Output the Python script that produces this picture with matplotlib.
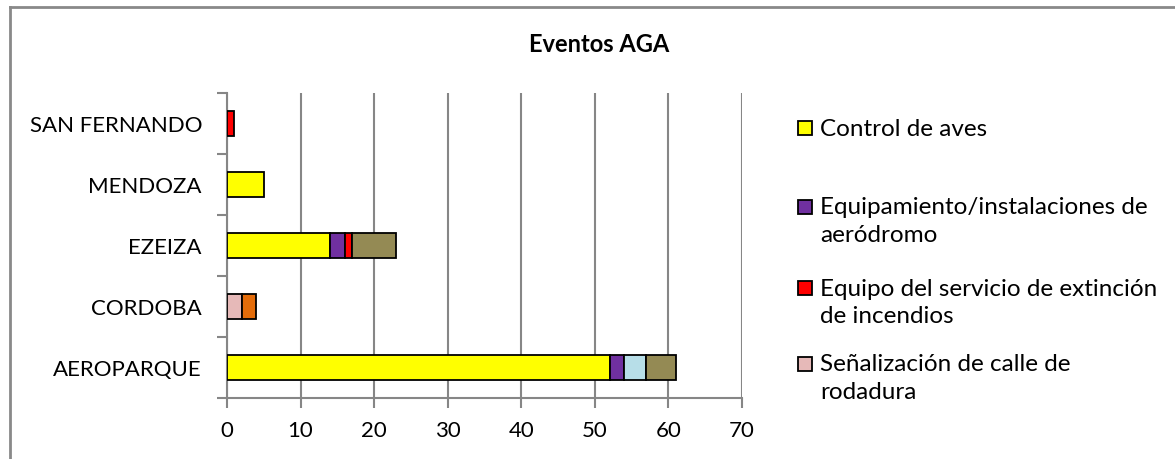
import matplotlib
matplotlib.use("Agg")
import matplotlib.pyplot as plt
from matplotlib.patches import Rectangle
from matplotlib.lines import Line2D
import numpy as np

plt.rcParams['font.family'] = ['Lato', 'DejaVu Sans']

# datos (de abajo hacia arriba)
aeropuertos = ['AEROPARQUE', 'CORDOBA', 'EZEIZA', 'MENDOZA', 'SAN FERNANDO']

control_aves = [52, 0, 14, 5, 0]
equipamiento = [2, 0, 2, 0, 0]
equipo_sei = [0, 0, 1, 0, 1]
senalizacion = [0, 2, 0, 0, 0]
serie_naranja = [0, 2, 0, 0, 0]
serie_celeste = [3, 0, 0, 0, 0]
serie_oliva = [4, 0, 6, 0, 0]

series = [control_aves, equipamiento, equipo_sei, senalizacion,
          serie_naranja, serie_celeste, serie_oliva]
colores = ['#FFFF00', '#7030A0', '#FF0000', '#E6B9B8',
           '#E46C0A', '#B7DEE8', '#948A54']
leyenda = ['Control de aves',
           'Equipamiento/instalaciones de\naeródromo',
           'Equipo del servicio de extinción\nde incendios',
           'Señalización de calle de\nrodadura']

xticks = [0, 10, 20, 30, 40, 50, 60, 70]

W, H = 1175, 460
fig = plt.figure(figsize=(W / 100, H / 100), dpi=100)
ax = fig.add_axes([227 / W, 1 - 399 / H, (742 - 227) / W, (399 - 94) / H])

gris = '#868686'
y = np.arange(len(aeropuertos))
izq = np.zeros(len(aeropuertos))
for vals, col in zip(series, colores):
    vals = np.array(vals, dtype=float)
    m = vals > 0
    ax.barh(y[m], vals[m], left=izq[m], height=0.4, color=col,
            edgecolor='black', linewidth=1.3, zorder=3)
    izq += vals

ax.set_xlim(0, 70)
ax.set_ylim(-0.5, len(aeropuertos) - 0.5)
ax.set_xticks(xticks)
ax.set_xticklabels([str(t) for t in xticks], fontsize=16)
ax.set_yticks(y)
ax.set_yticklabels(aeropuertos, fontsize=16)
ax.set_yticks(np.arange(-0.5, len(aeropuertos)), minor=True)
ax.tick_params(axis='y', which='major', length=0, pad=18)
ax.tick_params(axis='y', which='minor', length=7, width=1.5, color=gris)
ax.tick_params(axis='x', length=7, width=1.5, color=gris, pad=9)
ax.xaxis.grid(True, color=gris, linewidth=1.5, zorder=0)
for s in ['top', 'right']:
    ax.spines[s].set_visible(False)
for s in ['left', 'bottom']:
    ax.spines[s].set_color(gris)
    ax.spines[s].set_linewidth(1.5)

fig.text(599 / W, 1 - 45 / H, 'Eventos AGA', ha='center', va='center',
         fontsize=17, fontweight='bold')

# leyenda dibujada a mano (espaciado irregular como en el original)
pos_y = [129, 208, 289, 365]
for lab, col, yy in zip(leyenda, colores, pos_y):
    fig.patches.append(Rectangle((798 / W, 1 - (yy + 7) / H), 14 / W, 14 / H,
                                 facecolor=col, edgecolor='black', linewidth=1.3,
                                 transform=fig.transFigure))
    for i, linea in enumerate(lab.split('\n')):
        fig.text(820 / W, 1 - (yy + i * 27.5) / H, linea, ha='left', va='center',
                 fontsize=17.5)

# marco del gráfico
fig.add_artist(Line2D([10 / W, 10 / W], [0, 1 - 8 / H], color='#898989', lw=2))
fig.add_artist(Line2D([10 / W, 1], [1 - 8 / H, 1 - 8 / H], color='#898989', lw=2))

fig.savefig('out.png', dpi=100)
